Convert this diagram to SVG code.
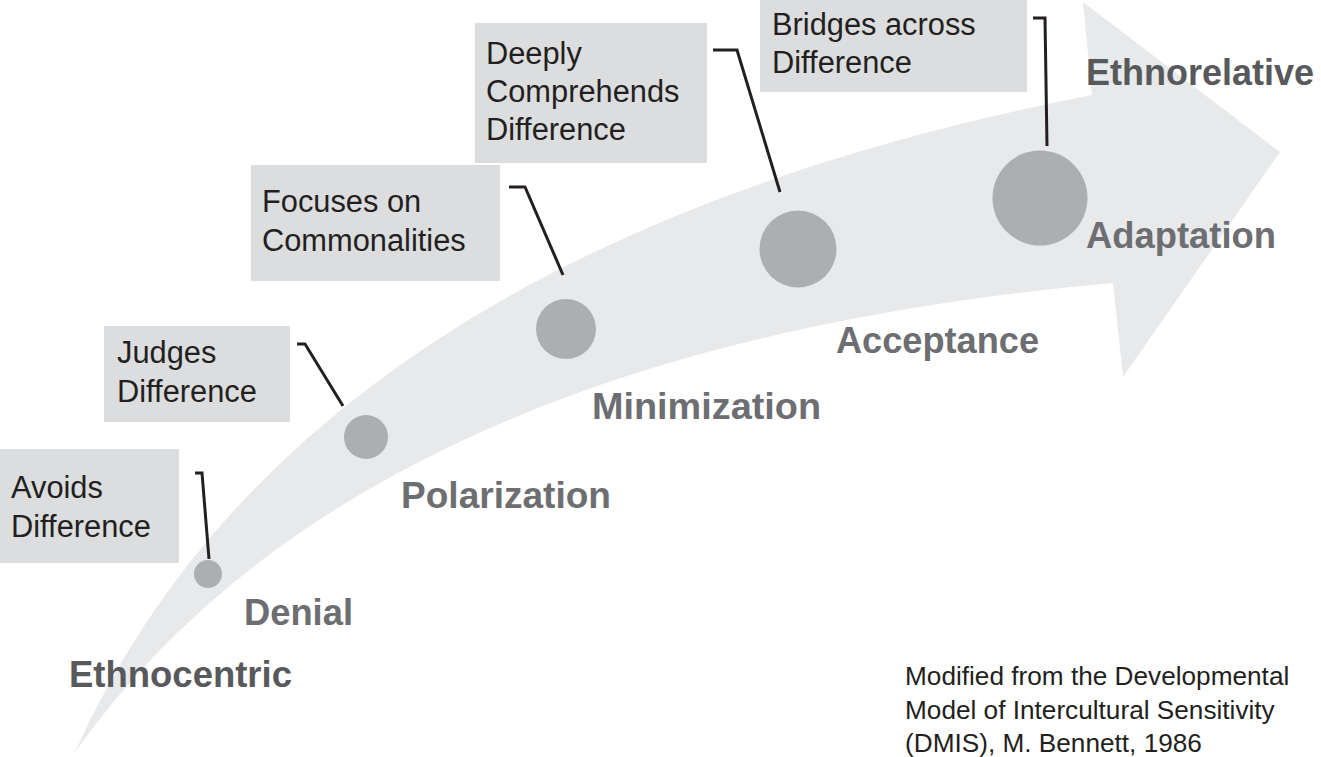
<svg xmlns="http://www.w3.org/2000/svg" width="1321" height="757" viewBox="0 0 1321 757">
<style>
.box{fill:#dcddde}
.dot{fill:#adaeb0}
.bt{font-family:"Liberation Sans",Arial,sans-serif;font-size:30.8px;fill:#231f20}
.stage{font-family:"Liberation Sans",Arial,sans-serif;font-size:36px;font-weight:bold;fill:#6d6e71}
.pole{font-family:"Liberation Sans",Arial,sans-serif;font-size:36px;font-weight:bold;fill:#58595b}
.note{font-family:"Liberation Sans",Arial,sans-serif;font-size:26.2px;fill:#231f20}
.conn{fill:none;stroke:#231f20;stroke-width:3;stroke-linejoin:miter}
</style>
<rect width="1321" height="757" fill="#ffffff"/>
<g id="arrow">
<path d="M75,752 Q300,250 1092,95 L1083,2 L1280,152 L1123,377 L1113,283 Q360,350 75,752 Z" fill="#e8e9ea"/>
</g>
<g id="connectors">
<polyline class="conn" points="195,473 202,473 209,559"/>
<polyline class="conn" points="297,344 305,344 343,406"/>
<polyline class="conn" points="509,187 525,187 563,275"/>
<polyline class="conn" points="713,50 737,50 780,192"/>
<polyline class="conn" points="1033,18 1045,18 1047,146"/>
</g>
<g id="denial">
<rect class="box" x="0" y="449" width="179" height="114"/>
<text class="bt" x="11" y="498">Avoids</text>
<text class="bt" x="11" y="537">Difference</text>
<circle class="dot" cx="208" cy="574" r="14"/>
<text class="stage" x="244" y="625" textLength="109" lengthAdjust="spacingAndGlyphs">Denial</text>
</g>
<g id="polarization">
<rect class="box" x="104" y="326" width="186" height="96"/>
<text class="bt" x="117" y="363">Judges</text>
<text class="bt" x="117" y="402">Difference</text>
<circle class="dot" cx="366" cy="437" r="22"/>
<text class="stage" x="401" y="508" textLength="210" lengthAdjust="spacingAndGlyphs">Polarization</text>
</g>
<g id="minimization">
<rect class="box" x="251" y="165" width="249" height="116"/>
<text class="bt" x="262" y="212">Focuses on</text>
<text class="bt" x="262" y="251">Commonalities</text>
<circle class="dot" cx="566" cy="329" r="30"/>
<text class="stage" x="592" y="419" textLength="229" lengthAdjust="spacingAndGlyphs">Minimization</text>
</g>
<g id="acceptance">
<rect class="box" x="475" y="23" width="232" height="140"/>
<text class="bt" x="486" y="64">Deeply</text>
<text class="bt" x="486" y="102">Comprehends</text>
<text class="bt" x="486" y="140">Difference</text>
<circle class="dot" cx="798" cy="249" r="38.5"/>
<text class="stage" x="836" y="353" textLength="203" lengthAdjust="spacingAndGlyphs">Acceptance</text>
</g>
<g id="adaptation">
<rect class="box" x="760" y="0" width="267" height="92"/>
<text class="bt" x="772" y="35">Bridges across</text>
<text class="bt" x="772" y="73">Difference</text>
<circle class="dot" cx="1040" cy="198" r="47.5"/>
<text class="stage" x="1086" y="248" textLength="190" lengthAdjust="spacingAndGlyphs">Adaptation</text>
</g>
<g id="poles">
<text class="pole" x="69" y="687" textLength="223" lengthAdjust="spacingAndGlyphs">Ethnocentric</text>
<text class="pole" x="1086" y="85" textLength="228" lengthAdjust="spacingAndGlyphs">Ethnorelative</text>
</g>
<g id="note">
<text class="note" x="905" y="685">Modified from the Developmental</text>
<text class="note" x="905" y="719">Model of Intercultural Sensitivity</text>
<text class="note" x="905" y="752">(DMIS), M. Bennett, 1986</text>
</g>
</svg>
